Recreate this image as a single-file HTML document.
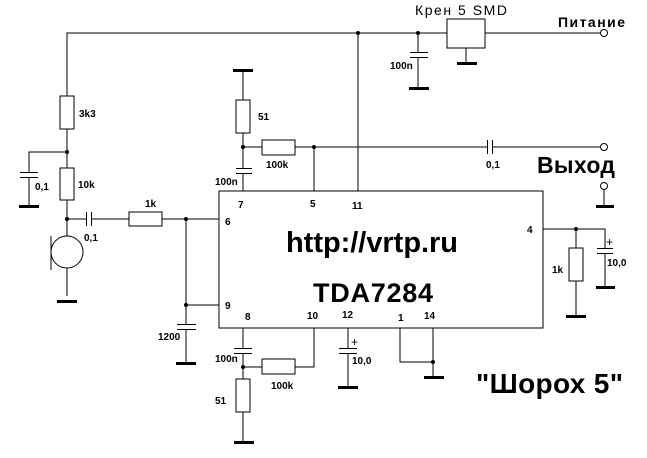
<!DOCTYPE html>
<html><head><meta charset="utf-8"><style>
html,body{margin:0;padding:0;background:#fff;}
svg{display:block;}
text{font-family:"Liberation Sans",sans-serif;font-weight:bold;fill:#000;}
</style></head><body>
<svg width="647" height="458" viewBox="0 0 647 458" xmlns="http://www.w3.org/2000/svg">
<g stroke="#000" stroke-width="1" fill="none" shape-rendering="crispEdges">
<polyline points="67,296 67,33 604,33"/>
<line x1="358" y1="33" x2="358" y2="191"/>
<line x1="418" y1="33" x2="418" y2="88"/>
<rect x="447" y="19" width="38" height="29" fill="#fff"/>
<line x1="466" y1="48" x2="466" y2="63"/>
<rect x="60" y="96" width="14" height="33" fill="#fff"/>
<rect x="60" y="168" width="14" height="32" fill="#fff"/>
<polyline points="67,152 29,152 29,206"/>
<line x1="67" y1="219" x2="219" y2="219"/>
<rect x="129" y="212" width="33" height="14" fill="#fff"/>
<line x1="186" y1="219" x2="186" y2="363"/>
<line x1="186" y1="305" x2="219" y2="305"/>
<rect x="219" y="191" width="324" height="137" fill="none"/>
<line x1="243" y1="70" x2="243" y2="191"/>
<rect x="236" y="100" width="14" height="33" fill="#fff"/>
<line x1="243" y1="147" x2="604" y2="147"/>
<rect x="262" y="140" width="33" height="15" fill="#fff"/>
<line x1="314" y1="147" x2="314" y2="191"/>
<line x1="604" y1="190" x2="604" y2="206"/>
<line x1="243" y1="328" x2="243" y2="442"/>
<rect x="236" y="379" width="14" height="33" fill="#fff"/>
<polyline points="243,367 314,367 314,328"/>
<rect x="262" y="359" width="33" height="15" fill="#fff"/>
<line x1="348" y1="328" x2="348" y2="387"/>
<polyline points="400,328 400,362 433,362"/>
<line x1="433" y1="328" x2="433" y2="377"/>
<polyline points="543,229 605,229 605,287"/>
<line x1="576" y1="229" x2="576" y2="316"/>
<rect x="569" y="248" width="14" height="33" fill="#fff"/>
<line x1="67" y1="219" x2="67" y2="236"/>
<line x1="51" y1="236" x2="51" y2="270"/>
</g>
<circle cx="67" cy="252" r="16" fill="#fff" stroke="#000" stroke-width="1"/>
<g fill="#fff">
<rect x="410" y="53" width="18" height="4"/>
<rect x="20" y="173" width="18" height="4"/>
<rect x="87" y="212" width="4" height="14"/>
<rect x="236" y="169" width="16" height="4"/>
<rect x="488" y="140" width="4" height="14"/>
<rect x="177" y="325" width="19" height="4"/>
<rect x="234" y="349" width="18" height="4"/>
<rect x="339" y="349" width="18" height="4"/>
<rect x="597" y="249" width="16" height="4"/>
</g>
<g stroke="#000" stroke-width="1" shape-rendering="crispEdges">
<line x1="410" y1="52.5" x2="428" y2="52.5"/><line x1="410" y1="57.5" x2="428" y2="57.5"/>
<line x1="20" y1="172.5" x2="38" y2="172.5"/><line x1="20" y1="177.5" x2="38" y2="177.5"/>
<line x1="86.5" y1="212" x2="86.5" y2="226"/><line x1="91.5" y1="212" x2="91.5" y2="226"/>
<line x1="236" y1="168.5" x2="252" y2="168.5"/><line x1="236" y1="173.5" x2="252" y2="173.5"/>
<line x1="487.5" y1="140" x2="487.5" y2="154"/><line x1="492.5" y1="140" x2="492.5" y2="154"/>
<line x1="177" y1="324.5" x2="196" y2="324.5"/><line x1="177" y1="329.5" x2="196" y2="329.5"/>
<line x1="234" y1="348.5" x2="252" y2="348.5"/><line x1="234" y1="353.5" x2="252" y2="353.5"/>
<line x1="339" y1="348.5" x2="357" y2="348.5"/><line x1="339" y1="353.5" x2="357" y2="353.5"/>
<line x1="597" y1="248.5" x2="613" y2="248.5"/><line x1="597" y1="253.5" x2="613" y2="253.5"/>
</g>
<g fill="#000">
<rect x="409" y="87" width="20" height="3"/>
<rect x="457" y="62" width="20" height="3"/>
<rect x="19" y="205" width="20" height="3"/>
<rect x="233" y="69" width="20" height="3"/>
<rect x="57" y="300" width="20" height="3"/>
<rect x="176" y="362" width="20" height="3"/>
<rect x="234" y="441" width="20" height="3"/>
<rect x="338" y="386" width="20" height="3"/>
<rect x="424" y="376" width="20" height="3"/>
<rect x="566" y="315" width="20" height="3"/>
<rect x="596" y="286" width="19" height="3"/>
<rect x="596" y="205" width="18" height="3"/>
<circle cx="358" cy="33" r="2"/><circle cx="418" cy="33" r="2"/>
<circle cx="67" cy="152" r="2"/><circle cx="67" cy="219" r="2"/>
<circle cx="186" cy="219" r="2"/><circle cx="186" cy="305" r="2"/>
<circle cx="243" cy="147" r="2"/><circle cx="314" cy="147" r="2"/>
<circle cx="243" cy="367" r="2"/><circle cx="433" cy="362" r="2"/>
<circle cx="576" cy="229" r="2"/>
</g>
<g fill="#fff" stroke="#000">
<circle cx="604" cy="33" r="3.5"/><circle cx="604" cy="147" r="3.5"/><circle cx="604" cy="186" r="3.5"/>
</g>
<g font-size="10">
<text x="79" y="117">3k3</text>
<text x="35" y="190">0,1</text>
<text x="78" y="188">10k</text>
<text x="84" y="241">0,1</text>
<text x="145" y="207">1k</text>
<text x="258" y="120">51</text>
<text x="266" y="168">100k</text>
<text x="215" y="185">100n</text>
<text x="390" y="69">100n</text>
<text x="486" y="168">0,1</text>
<text x="158" y="340">1200</text>
<text x="215" y="362">100n</text>
<text x="271" y="389">100k</text>
<text x="215" y="404">51</text>
<text x="552" y="273">1k</text>
<text x="607" y="266">10,0</text>
<text x="352" y="364">10,0</text>
<text x="238" y="208">7</text>
<text x="310" y="207">5</text>
<text x="352" y="209">11</text>
<text x="225" y="225">6</text>
<text x="225" y="309">9</text>
<text x="245" y="320">8</text>
<text x="307" y="319">10</text>
<text x="342" y="318">12</text>
<text x="398" y="321">1</text>
<text x="424" y="319">14</text>
<text x="527" y="233">4</text>
</g>
<text x="606" y="246" font-size="12" style="font-weight:normal">+</text>
<text x="351" y="346" font-size="12" style="font-weight:normal">+</text>
<text x="415" y="15" font-size="14" style="font-weight:normal" textLength="92">Крен 5 SMD</text>
<text x="558" y="27" font-size="14" textLength="67">Питание</text>
<text x="537" y="173" font-size="23" textLength="78">Выход</text>
<text x="286" y="252" font-size="29" textLength="172">http://vrtp.ru</text>
<text x="313" y="302" font-size="27" textLength="120">TDA7284</text>
<text x="476" y="393" font-size="28" textLength="147">"Шорох 5"</text>
</svg>
</body></html>
